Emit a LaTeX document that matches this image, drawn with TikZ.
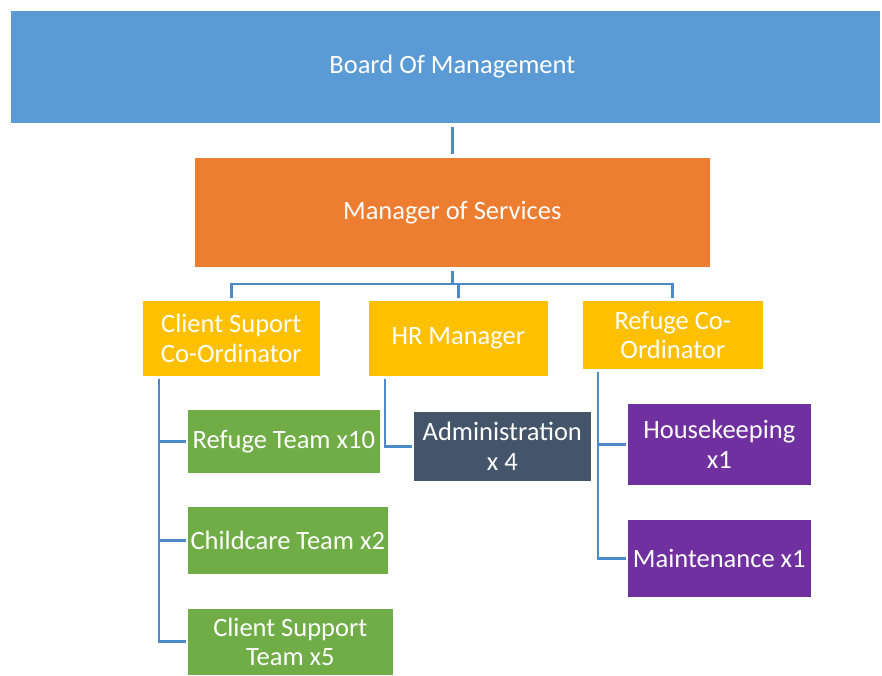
\documentclass[tikz,border=0pt]{standalone}
\usepackage{fontspec}
\setmainfont{Carlito}
\definecolor{cblue}{HTML}{5B9BD5}
\definecolor{corange}{HTML}{ED7D31}
\definecolor{cyellow}{HTML}{FFC000}
\definecolor{cgreen}{HTML}{70AD47}
\definecolor{cdark}{HTML}{44546A}
\definecolor{cpurple}{HTML}{7030A0}
\definecolor{cline}{HTML}{4E8AC8}
\tikzset{
  box/.style={draw=white, line width=0.6pt, anchor=north west, inner sep=0pt,
    text=white, align=center, font=\fontsize{26.5}{29.5}\selectfont},
  conn/.style={draw=cline, line width=2.7pt}
}
\begin{document}
\begin{tikzpicture}[x=1pt,y=-1pt]
\useasboundingbox (0,0) rectangle (882,675);
\node[box, fill=cblue, minimum width=870pt, minimum height=113pt] (board) at (10,10) {\hspace*{14pt}Board Of Management};
\node[box, fill=corange, minimum width=516pt, minimum height=110pt] (mgr) at (194,157) {Manager of Services};
\node[box, fill=cyellow, minimum width=178pt, minimum height=76pt] (cs) at (142,300) {Client Suport\\Co-Ordinator};
\node[box, fill=cyellow, minimum width=180pt, minimum height=76pt] (hr) at (368,300) {HR Manager};
\node[box, fill=cyellow, minimum width=181pt, minimum height=69pt] (rc) at (582,300) {Refuge Co-\\Ordinator};
\node[box, fill=cgreen, minimum width=193pt, minimum height=64pt] (rt) at (187,409) {Refuge Team x10};
\node[box, fill=cgreen, minimum width=201pt, minimum height=68pt] (ct) at (187,506) {Childcare Team x2};
\node[box, fill=cgreen, minimum width=206pt, minimum height=67pt] (cst) at (187,608) {Client Support\\Team x5};
\node[box, fill=cdark, minimum width=178pt, minimum height=70pt] (adm) at (413,411) {Administration\\x 4};
\node[box, fill=cpurple, minimum width=184pt, minimum height=82pt] (hk) at (627,403) {Housekeeping\\x1};
\node[box, fill=cpurple, minimum width=184pt, minimum height=78pt] (mt) at (627,519) {Maintenance x1};
\coordinate (busy) at (0,284);
\coordinate (lsp) at (159,0);
\coordinate (hsp) at (385,0);
\coordinate (rsp) at (598,0);
% board to manager
\draw[conn] ([yshift=-3pt]board.south -| mgr.north) -- ([yshift=3pt]mgr.north);
% manager to level 2
\draw[conn] ([yshift=-3pt]mgr.south) -- (mgr.south |- busy);
\draw[conn] ([yshift=2pt]cs.north) -- (cs.north |- busy) -- (rc.north |- busy) -- ([yshift=2pt]rc.north);
\draw[conn] ([yshift=2pt]hr.north) -- (hr.north |- busy);
% client support spine
\draw[conn] ([yshift=-2pt]cs.south -| lsp) -- (lsp |- cst.west) -- ([xshift=-1pt]cst.west);
\draw[conn] (lsp |- rt.west) -- ([xshift=-1pt]rt.west);
\draw[conn] (lsp |- ct.west) -- ([xshift=-1pt]ct.west);
% HR to admin
\draw[conn] ([yshift=-2pt]hr.south -| hsp) -- (hsp |- adm.west) -- ([xshift=-1pt]adm.west);
% refuge spine
\draw[conn] ([yshift=-2pt]rc.south -| rsp) -- (rsp |- mt.west) -- ([xshift=-1pt]mt.west);
\draw[conn] (rsp |- hk.west) -- ([xshift=-1pt]hk.west);
\end{tikzpicture}
\end{document}
